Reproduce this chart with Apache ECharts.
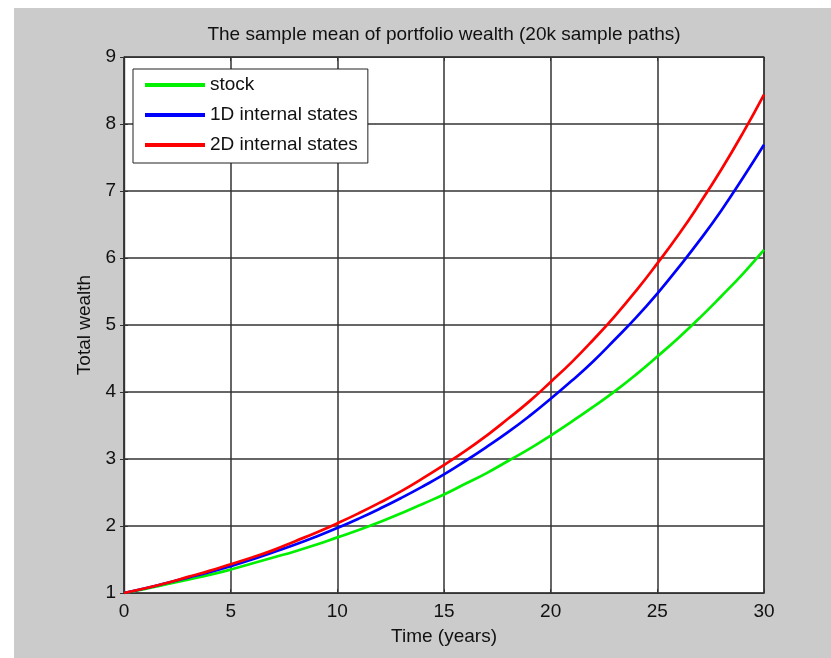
<!DOCTYPE html>
<html>
<head>
<meta charset="utf-8">
<script src="https://cdn.jsdelivr.net/npm/echarts@6/dist/echarts.min.js"></script>
<style>
  html, body { margin: 0; padding: 0; background: #ffffff; }
  #chart { position: absolute; left: 14px; top: 8px; width: 817px; height: 650px; background: #cbcbcb; }
</style>
</head>
<body>
<div id="chart"></div>
<script>
// Time axis (years) and the mean wealth of each strategy at every year
const years = [0,1,2,3,4,5,6,7,8,9,10,11,12,13,14,15,16,17,18,19,20,21,22,23,24,25,26,27,28,29,30];
const stock = [1.00,1.06,1.13,1.20,1.27,1.35,1.44,1.53,1.62,1.72,1.83,1.94,2.06,2.19,2.33,2.47,2.63,2.79,2.97,3.15,3.35,3.56,3.78,4.01,4.26,4.53,4.81,5.11,5.43,5.76,6.12];
const internal1D = [1.00,1.07,1.15,1.23,1.31,1.40,1.50,1.61,1.72,1.84,1.97,2.11,2.26,2.42,2.59,2.77,2.97,3.18,3.40,3.64,3.90,4.17,4.46,4.78,5.11,5.47,5.86,6.27,6.71,7.19,7.69];
const internal2D = [1.00,1.07,1.15,1.24,1.33,1.43,1.53,1.64,1.77,1.90,2.04,2.19,2.35,2.52,2.71,2.91,3.12,3.35,3.60,3.86,4.15,4.45,4.78,5.13,5.51,5.92,6.35,6.82,7.32,7.86,8.44];

const seriesNames = ['stock', '1D internal states', '2D internal states'];
const seriesColors = ['#00f000', '#0000ff', '#ff0000'];
const titleText = 'The sample mean of portfolio wealth (20k sample paths)';
const xName = 'Time (years)';
const yName = 'Total wealth';

const FONT = 'Liberation Sans, Arial, sans-serif';
const FS = 19;
const INK = '#111111';
const GRIDC = '#333333';

const chart = echarts.init(document.getElementById('chart'), null, { renderer: 'canvas' });

function pairs(vals) { return years.map((t, i) => [t, vals[i]]); }

const gridLeft = 110, gridTop = 49, gridW = 640, gridH = 536;

// Top and right axes only carry the inward tick marks of the closed box
const hiddenAxisCommon = {
  axisLine: { show: true, lineStyle: { color: GRIDC, width: 1.2 } },
  axisTick: { show: true, inside: true, length: 4, lineStyle: { color: GRIDC } },
  axisLabel: { show: false },
  splitLine: { show: false }
};

chart.setOption({
  animation: false,
  textStyle: { fontFamily: FONT },
  graphic: [{
    type: 'text',
    x: gridLeft + gridW / 2,
    y: 27,
    style: {
      text: titleText,
      fill: INK,
      font: FS + 'px ' + FONT,
      textAlign: 'center',
      textVerticalAlign: 'middle'
    }
  }],
  grid: {
    left: gridLeft, top: gridTop, width: gridW, height: gridH,
    show: true, backgroundColor: '#ffffff', borderColor: GRIDC, borderWidth: 1.2
  },
  legend: {
    orient: 'vertical',
    left: 119, top: 61,
    padding: [6, 10, 8, 12],
    itemWidth: 60, itemHeight: 4,
    itemGap: 10,
    icon: 'rect',
    backgroundColor: '#ffffff',
    borderColor: '#222222', borderWidth: 1, borderRadius: 0,
    textStyle: { fontSize: FS, color: INK, fontFamily: FONT, lineHeight: 20 },
    data: seriesNames
  },
  xAxis: [{
    type: 'value', min: 0, max: 30, interval: 5,
    name: xName, nameLocation: 'middle', nameGap: 34,
    nameTextStyle: { fontSize: FS, color: INK, fontFamily: FONT },
    axisLine: { show: true, onZero: false, lineStyle: { color: GRIDC, width: 1.2 } },
    axisTick: { show: true, inside: true, length: 4, lineStyle: { color: GRIDC } },
    axisLabel: { fontSize: FS, color: INK, margin: 9, fontFamily: FONT },
    splitLine: { show: true, lineStyle: { color: GRIDC, width: 1.5 } }
  }, Object.assign({
    type: 'value', min: 0, max: 30, interval: 5, position: 'top'
  }, hiddenAxisCommon)],
  yAxis: [{
    type: 'value', min: 1, max: 9, interval: 1,
    name: yName, nameLocation: 'middle', nameGap: 30, nameRotate: 90,
    nameTextStyle: { fontSize: FS, color: INK, fontFamily: FONT },
    axisLine: { show: true, onZero: false, lineStyle: { color: GRIDC, width: 1.2 } },
    axisTick: { show: true, inside: true, length: 4, lineStyle: { color: GRIDC } },
    axisLabel: { fontSize: FS, color: INK, margin: 8, fontFamily: FONT },
    splitLine: { show: true, lineStyle: { color: GRIDC, width: 1.5 } }
  }, Object.assign({
    type: 'value', min: 1, max: 9, interval: 1, position: 'right'
  }, hiddenAxisCommon)],
  series: [
    { name: seriesNames[0], data: pairs(stock) },
    { name: seriesNames[1], data: pairs(internal1D) },
    { name: seriesNames[2], data: pairs(internal2D) }
  ].map((s, i) => Object.assign({
    type: 'line',
    xAxisIndex: 0, yAxisIndex: 0,
    smooth: true,
    showSymbol: false,
    symbol: 'none',
    color: seriesColors[i],
    lineStyle: { width: 2.7, color: seriesColors[i] },
    z: 3 + i
  }, s))
});
</script>
</body>
</html>
